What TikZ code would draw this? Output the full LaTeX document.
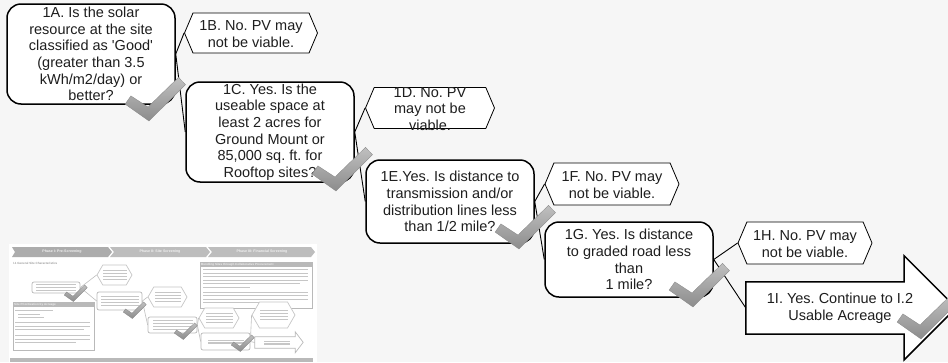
\documentclass[tikz,border=0pt]{standalone}
\usepackage{fontspec}
\setmainfont{Liberation Sans}
\usetikzlibrary{shapes.symbols}
\definecolor{bgcol}{RGB}{246,246,246}
\definecolor{inkcol}{RGB}{30,30,30}

% rows of grey bars standing in for unreadable small print
\newcommand\tbars[4]{%
  \foreach \k in {1,...,#4}{%
    \fill[tbar] ({#1-#3/2},{#2+(\k-(#4+1)/2)*2.8-0.6}) rectangle ++(#3,1.2);}}

\tikzset{
  checkmark/.pic={
    \shade[top color=gray!50, middle color=gray!70, bottom color=gray!90,
           draw=gray!95, line width=0.3pt]
      (-22.9,-12.9) -- (-17.1,-21.1) -- (0,-10) -- (30.5,-39.6)
      -- (37.5,-32.4) -- (1,4) -- cycle;
  },
  qbox/.style={draw=black, line width=1.5pt, fill=white, rounded corners=14pt,
    inner sep=0pt, align=center, text=inkcol,
    font=\fontsize{14.5}{16.7}\selectfont},
  hexbox/.style={signal, signal to=east and west, signal pointer angle=134,
    draw=black, line width=0.8pt, fill=white, inner sep=0pt},
  hextext/.style={align=center, inner sep=0pt, text=inkcol,
    font=\fontsize{14.5}{16.7}\selectfont},
  bodybox/.style={inner sep=0pt},
  arrowline/.style={draw=black, line width=1.5pt, fill=white, line join=miter},
  link/.style={draw=black, line width=0.9pt},
  % thumbnail page
  tbar/.style={gray!45},
  mbox/.style={draw=gray!55, line width=0.7pt, fill=white, rounded corners=2pt,
    inner sep=0pt},
  mhex/.style={signal, signal to=east and west, signal pointer angle=120,
    draw=gray!45, line width=0.7pt, fill=white, inner sep=0pt},
  marrowline/.style={draw=gray!55, line width=0.7pt, fill=white},
  mlink/.style={draw=gray!50, line width=0.6pt},
  headtext/.style={inner sep=0pt, text=white!88!gray,
    font=\fontsize{3.6}{4}\selectfont\bfseries},
  smalltext/.style={inner sep=0pt, text=gray!75, anchor=west,
    font=\fontsize{3}{3.5}\selectfont\bfseries},
}

\begin{document}
\frenchspacing
\begin{tikzpicture}[x=1pt, y=-1pt]
\useasboundingbox (0,0) rectangle (948,362);
\clip (0,0) rectangle (948,362);
\fill[bgcol] (0,0) rectangle (948,362);

% ---------- thumbnail of the full screening page ----------
\fill[white] (9,244) rectangle (317,362);
\fill[gray!65] (12,247) -- (108,247) -- (112,252) -- (108,257) -- (12,257) -- (15,252) -- cycle;
\fill[gray!52] (110,247) -- (206,247) -- (210,252) -- (206,257) -- (110,257) -- (114,252) -- cycle;
\fill[gray!52] (208,247) -- (311,247) -- (315,252) -- (311,257) -- (208,257) -- (212,252) -- cycle;
\node[headtext] (ph1) at (62,252) {Phase I: Pre-Screening};
\node[headtext] (ph2) at (160,252) {Phase II: Site Screening};
\node[headtext] (ph3) at (262,252) {Phase III: Financial Screening};
\node[smalltext] (sec) at (13,263) {I.1 General Site Characteristics};

% acreage box
\draw[gray!55, line width=0.9pt, fill=white] (13,302) rectangle (94,350);
\fill[gray!55] (13,302) rectangle (94,306.5);
\node[smalltext, text=gray!15] (acr) at (14,304.3) {Site Prioritization by Acreage};
\foreach \yy/\xa/\xb in {310/15/53, 313.5/18/40, 317/18/44, 322/15/90, 325.5/15/90,
    329/15/84, 335/15/90, 338.5/15/90, 342/15/76}
  \fill[tbar] (\xa,\yy) rectangle (\xb,\yy+1.2);

% collaborative procurement box
\draw[gray!55, line width=0.9pt, fill=white] (200,262) rectangle (312,308);
\fill[gray!55] (200,262) rectangle (312,266.5);
\node[smalltext, text=gray!15] (bun) at (201,264.3) {Bundling Sites through Collaborative Procurement};
\foreach \yy/\xb in {269/308, 272.5/308, 276/308, 279.5/308, 283/300, 286.5/250,
    291.5/308, 295/308, 298.5/308, 302/262}
  \fill[tbar] (203,\yy) rectangle (\xb,\yy+1.2);

% miniature flow chart
\node[mbox, minimum width=48pt, minimum height=11pt] (m1A) at (56,287.5) {};
\node[mhex, minimum width=35pt, minimum height=20pt] (m1B) at (114.5,275) {};
\node[mbox, minimum width=45pt, minimum height=18pt] (m1C) at (119.5,301) {};
\node[mhex, minimum width=39pt, minimum height=20pt] (m1D) at (167.5,297) {};
\node[mbox, minimum width=49pt, minimum height=16pt] (m1E) at (172.5,325) {};
\node[mhex, minimum width=40pt, minimum height=20pt] (m1F) at (219,318) {};
\node[mbox, minimum width=49pt, minimum height=17pt] (m1G) at (225.5,341.5) {};
\node[mhex, minimum width=43pt, minimum height=26pt] (m1H) at (273.5,315) {};
\node[bodybox, minimum width=40pt, minimum height=11pt] (m1I) at (275,342.5) {};
\draw[marrowline] (m1I.north west) -- (m1I.north east) -- ++(0,-5) -- ++(8,10.5)
  -- ++(-8,10.5) -- (m1I.south east) -- (m1I.south west) -- cycle;
\draw[mlink] (m1A.east) -- (m1B.west);
\draw[mlink] (m1A.east) -- (m1C.west);
\draw[mlink] (m1C.east) -- (m1D.west);
\draw[mlink] (m1C.east) -- (m1E.west);
\draw[mlink] (m1E.east) -- (m1F.west);
\draw[mlink] (m1E.east) -- (m1G.west);
\draw[mlink] (m1G.east) -- (m1H.west);
\draw[mlink] (m1G.east) -- (m1I.west);
\tbars{56}{287.5}{40}{3}
\tbars{114.5}{275}{24}{4}
\tbars{119.5}{301}{38}{4}
\tbars{167.5}{297}{26}{4}
\tbars{172.5}{325}{40}{4}
\tbars{219}{318}{27}{4}
\tbars{225.5}{341.5}{36}{2}
\tbars{273.5}{315}{28}{4}
\tbars{277}{342.5}{26}{2}
\pic[scale=0.38] at (73,300) {checkmark};
\pic[scale=0.38] at (132,317) {checkmark};
\pic[scale=0.38] at (183,338) {checkmark};
\pic[scale=0.38] at (240,350) {checkmark};
\fill[gray!55] (10,358) rectangle (313,362);

% ---------- screening questions ----------
\path (91,54) coordinate (cA) (251,33) coordinate (cB) (270,132) coordinate (cC)
      (430,108) coordinate (cD) (450,201.5) coordinate (cE) (612,184) coordinate (cF)
      (629,259.5) coordinate (cG) (805,243) coordinate (cH) (825,308) coordinate (cI);

\node[qbox, minimum width=168pt, minimum height=100pt] (n1A) at (cA)
  {1A. Is the solar\\resource at the site\\classified as \textquotesingle Good\textquotesingle\\(greater than 3.5\\kWh/m2/day) or\\better?};
\node[hexbox, minimum width=133pt, minimum height=40pt] (n1B) at (cB) {};
\node[qbox, minimum width=168pt, minimum height=100pt] (n1C) at (cC)
  {1C. Yes. Is the\\useable space at\\least 2 acres for\\Ground Mount or\\85,000 sq. ft. for\\Rooftop sites?};
\node[hexbox, minimum width=129pt, minimum height=41pt] (n1D) at (cD) {};
\node[qbox, minimum width=168pt, minimum height=83pt] (n1E) at (cE)
  {1E.Yes. Is distance to\\transmission and/or\\distribution lines less\\than 1/2 mile?};
\node[hexbox, minimum width=134pt, minimum height=42pt] (n1F) at (cF) {};
\node[qbox, minimum width=168pt, minimum height=75pt] (n1G) at (cG)
  {1G. Yes. Is distance\\to graded road less\\than\\1 mile?};
\node[hexbox, minimum width=134pt, minimum height=42pt] (n1H) at (cH) {};
% final step: wide arrow whose body is the node n1I
\node[bodybox, minimum width=158pt, minimum height=52pt] (n1I) at (cI) {};
\draw[arrowline] (n1I.north west) -- (n1I.north east) -- ++(0,-26) -- ++(52,52)
  -- ++(-52,52) -- (n1I.south east) -- (n1I.south west) -- cycle;

\draw[link] (n1A.east) -- (n1B.west);
\draw[link] (n1A.east) -- (n1C.west);
\draw[link] (n1C.east) -- (n1D.west);
\draw[link] (n1C.east) -- (n1E.west);
\draw[link] (n1E.east) -- (n1F.west);
\draw[link] (n1E.east) -- (n1G.west);
\draw[link] (n1G.east) -- (n1H.west);
\draw[link] (n1G.east) -- (n1I.west);

\node[hextext] (t1B) at (251,34) {1B. No. PV may\\not be viable.};
\node[hextext] (t1D) at (430,109) {1D. No. PV\\may not be\\viable.};
\node[hextext] (t1F) at (612,185) {1F. No. PV may\\not be viable.};
\node[hextext] (t1H) at (805,244) {1H. No. PV may\\not be viable.};
\node[hextext] (t1I) at (840,308) {1I. Yes. Continue to I.2\\Usable Acreage};

\pic at (148,117) {checkmark};
\pic at (335,187) {checkmark};
\pic at (518,245) {checkmark};
\pic at (692,303) {checkmark};
\pic at (920,335) {checkmark};
\end{tikzpicture}
\end{document}
